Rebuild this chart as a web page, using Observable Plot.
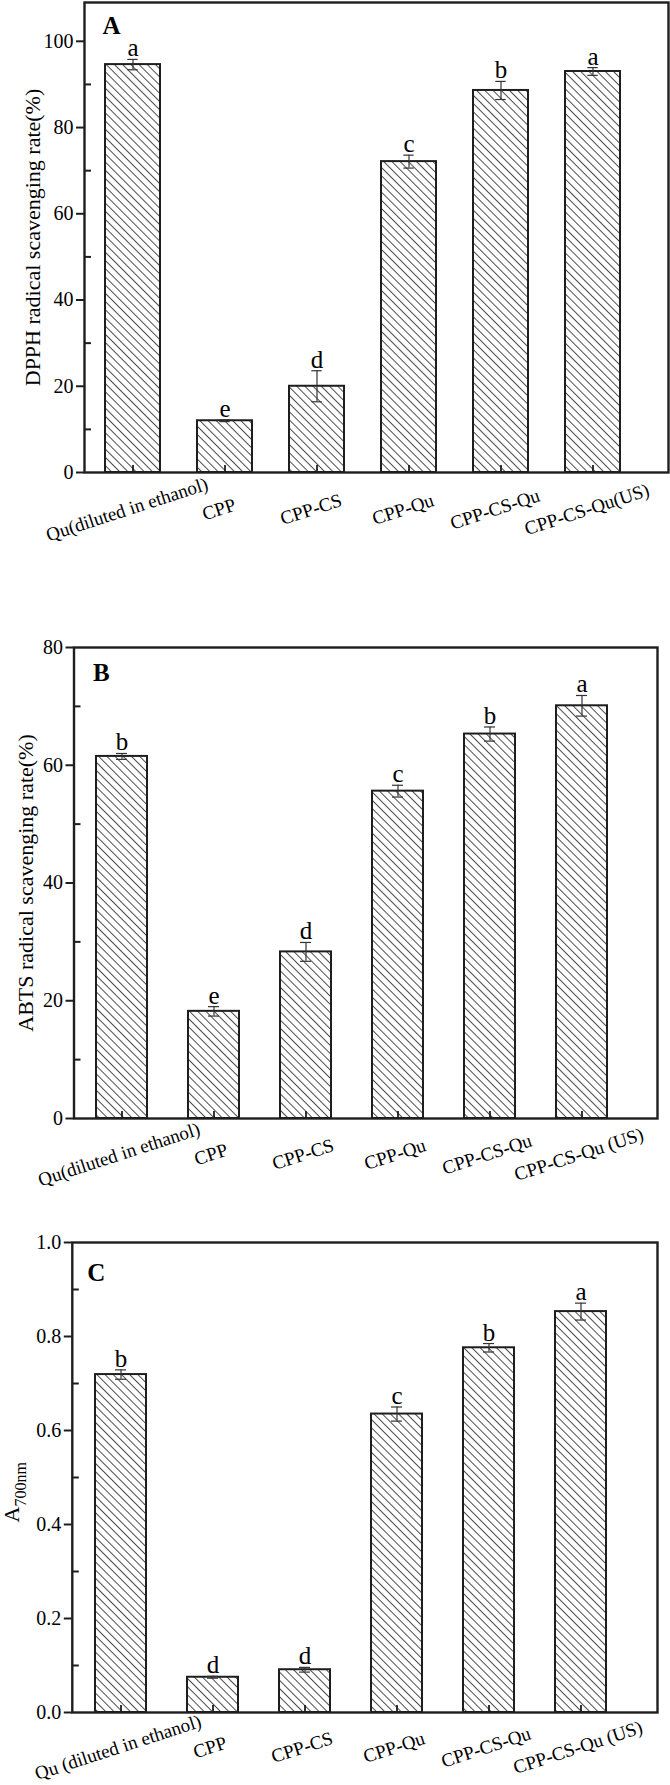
<!DOCTYPE html>
<html><head><meta charset="utf-8">
<script src="https://cdn.jsdelivr.net/npm/d3@7"></script>
<script src="https://cdn.jsdelivr.net/npm/@observablehq/plot@0.6"></script>
<style>
body{margin:0;background:#fff;}
#chart svg{display:block;}
</style></head><body>
<svg width="0" height="0" style="position:absolute">
<defs><pattern id="hatch" patternUnits="userSpaceOnUse" width="5.8" height="5.8" patternTransform="rotate(-45)">
<line x1="0.5" y1="-1" x2="0.5" y2="7" stroke="#3a3a3a" stroke-width="0.9"/>
</pattern></defs></svg>
<div id="chart"></div>
<script>
// ---- data ----
const catsA = ["Qu(diluted in ethanol)","CPP","CPP-CS","CPP-Qu","CPP-CS-Qu","CPP-CS-Qu(US)"];
const catsB = ["Qu(diluted in ethanol)","CPP","CPP-CS","CPP-Qu","CPP-CS-Qu","CPP-CS-Qu (US)"];
const catsC = ["Qu (diluted in ethanol)","CPP","CPP-CS","CPP-Qu","CPP-CS-Qu","CPP-CS-Qu (US)"];

const dpph    = [94.6, 12.0, 20.0, 72.1, 88.6, 93.0];
const dpphErr = [1.2, 0.2, 3.6, 1.5, 2.1, 0.9];
const dpphSig = ["a","e","d","c","b","a"];

const abts    = [61.5, 18.2, 28.3, 55.6, 65.3, 70.1];
const abtsErr = [0.5, 0.8, 1.6, 1.0, 1.2, 1.75];
const abtsSig = ["b","e","d","c","b","a"];

const a700    = [0.719, 0.075, 0.091, 0.635, 0.776, 0.853];
const a700Err = [0.010, 0.002, 0.005, 0.015, 0.009, 0.018];
const a700Sig = ["b","d","d","c","b","a"];

const ticksA = [0,20,40,60,80,100], minorA = [10,30,50,70,90];
const ticksB = [0,20,40,60,80],     minorB = [10,30,50,70];
const ticksC = [0,0.2,0.4,0.6,0.8,1.0], minorC = [0.1,0.3,0.5,0.7,0.9];

const FONT = "'Liberation Serif','Times New Roman',serif";
const INK = "#1e1e1e";
const TXT = "#000";

function panel(o) {
  const data = o.cats.map((c, i) => ({cat: c, v: o.values[i], e: o.errs[i], s: o.sigs[i]}));
  const step = 92.7;
  const bw = step * (1 - o.pad);
  const capInset = (bw - 11) / 2;
  const marks = [
    Plot.barY(data, {x: "cat", y: "v", fill: "url(#hatch)", stroke: INK, strokeWidth: 2}),
    Plot.axisX({anchor: "top", frameAnchor: "bottom", tickSize: 8, tickFormat: () => "", label: null, stroke: INK, strokeWidth: 1.8}),
    Plot.ruleX(data, {x: "cat", y1: d => d.v - d.e, y2: d => d.v + d.e, stroke: "#333", strokeWidth: 1.2}),
    Plot.tickY(data, {x: "cat", y: d => d.v + d.e, inset: capInset, stroke: "#333", strokeWidth: 1.2}),
    Plot.tickY(data, {x: "cat", y: d => d.v - d.e, inset: capInset, stroke: "#333", strokeWidth: 1.2}),
    Plot.text(data, {x: "cat", y: d => d.v + d.e, text: "s", lineAnchor: "bottom", dy: -3, fontSize: 25, fill: TXT}),
    Plot.frame({stroke: INK, strokeWidth: 2.4}),
    Plot.axisY({ticks: o.ticks, tickSize: 8, tickPadding: 3, fontSize: 20, tickFormat: o.fmt, label: null, stroke: INK, strokeWidth: 2, fill: TXT}),
    Plot.axisY({anchor: "right", frameAnchor: "left", ticks: o.minor, tickSize: 6, tickFormat: () => "", label: null, stroke: INK, strokeWidth: 2}),
    Plot.text(data, {x: "cat", frameAnchor: "bottom", text: "cat", rotate: -18, dy: o.labelDy, dx: o.labelDx, textAnchor: "middle", lineAnchor: "middle", fontSize: 19, fill: TXT}),
    Plot.text([o.letter], {frameAnchor: "top-left", text: d => d, dx: o.letterDx, dy: o.letterDy, textAnchor: "start", lineAnchor: "bottom", fontWeight: "bold", fontSize: 25, fill: TXT})
  ];
  marks.push(...o.titleMarks);
  return Plot.plot({
    width: 670, height: o.height,
    marginLeft: o.left, marginRight: 670 - o.right, marginTop: o.mt, marginBottom: o.mb,
    style: {fontFamily: FONT, background: "white", color: TXT, overflow: "visible"},
    x: {type: "band", domain: o.cats, range: [o.left, o.left + step * 6], paddingInner: o.pad, paddingOuter: o.pad / 2, axis: null},
    y: {domain: [0, o.ymax], axis: null},
    marks
  });
}

const chart = document.getElementById("chart");

chart.append(panel({
  cats: catsA, values: dpph, errs: dpphErr, sigs: dpphSig,
  ymax: 109, ticks: ticksA, minor: minorA, fmt: d => String(d),
  height: 560, mt: 2, mb: 88, left: 84, right: 668, pad: 0.4,
  labelDx: -6, labelDy: 37, letter: "A", letterDx: 18, letterDy: 31,
  titleMarks: [Plot.text(["DPPH radical scavenging rate(%)"], {frameAnchor: "left", text: d => d, rotate: -90, dx: 39 - 84, textAnchor: "middle", lineAnchor: "bottom", fontSize: 22, fill: TXT})]
}));

chart.append(panel({
  cats: catsB, values: abts, errs: abtsErr, sigs: abtsSig,
  ymax: 80, ticks: ticksB, minor: minorB, fmt: d => String(d),
  height: 620, mt: 87, mb: 62, left: 73.5, right: 657, pad: 0.45,
  labelDx: -3, labelDy: 36, letter: "B", letterDx: 19, letterDy: 33,
  titleMarks: [Plot.text(["ABTS radical scavenging rate(%)"], {frameAnchor: "left", text: d => d, rotate: -90, dx: 32 - 73.5, textAnchor: "middle", lineAnchor: "bottom", fontSize: 22, fill: TXT})]
}));

chart.append(panel({
  cats: catsC, values: a700, errs: a700Err, sigs: a700Sig,
  ymax: 1.0, ticks: ticksC, minor: minorC, fmt: d => d.toFixed(1),
  height: 605, mt: 62, mb: 73, left: 71.8, right: 657, pad: 0.45,
  labelDx: -3, labelDy: 35, letter: "C", letterDx: 15, letterDy: 38,
  titleMarks: [
    Plot.text(["A"], {frameAnchor: "left", text: d => d, rotate: -90, dx: 18 - 71.8, dy: 45, textAnchor: "start", lineAnchor: "bottom", fontSize: 22, fill: TXT}),
    Plot.text(["700nm"], {frameAnchor: "left", text: d => d, rotate: -90, dx: 25 - 71.8, dy: 29, textAnchor: "start", lineAnchor: "bottom", fontSize: 16, fill: TXT})
  ]
}));
</script>
</body></html>
